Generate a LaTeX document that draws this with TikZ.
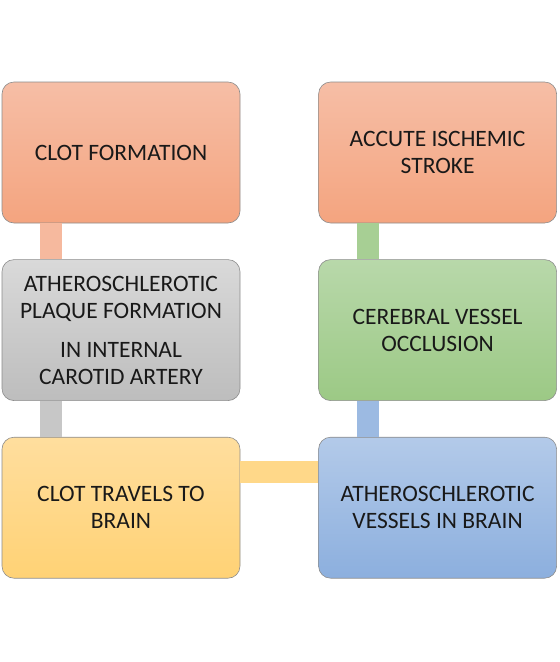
\documentclass[tikz,border=0pt]{standalone}
\usepackage{fontspec}
\setmainfont{Carlito}
\usepackage{xcolor}
\usetikzlibrary{positioning}

\definecolor{salmonTop}{HTML}{F6BEA6}
\definecolor{salmonBot}{HTML}{F4A47F}
\definecolor{greyTop}{HTML}{D9D9D9}
\definecolor{greyBot}{HTML}{BDBDBD}
\definecolor{yellowTop}{HTML}{FFDE9E}
\definecolor{yellowBot}{HTML}{FFD275}
\definecolor{blueTop}{HTML}{B3CAE9}
\definecolor{blueBot}{HTML}{8CAFDE}
\definecolor{greenTop}{HTML}{B8D8AA}
\definecolor{greenBot}{HTML}{9CC985}

\begin{document}
\begin{tikzpicture}[
    x=1pt, y=-1pt,
    node distance=36pt and 78pt,
    stage/.style={draw=black!45, line width=0.6pt, rounded corners=12pt,
      minimum width=238pt, minimum height=141pt, align=center,
      text=black!90, font=\fontsize{23.5}{27}\selectfont},
    bar/.style={line width=22pt}
  ]
    \useasboundingbox (0,0) rectangle (560,662);
    \node[stage, top color=salmonTop, bottom color=salmonBot] (clot) at (121,152.5) {CLOT FORMATION};
    \node[stage, top color=greyTop, bottom color=greyBot, below=of clot] (plaque)
      {ATHEROSCHLEROTIC\\PLAQUE FORMATION\\[12pt]IN INTERNAL\\CAROTID ARTERY};
    \node[stage, top color=yellowTop, bottom color=yellowBot, below=of plaque] (travel) {CLOT TRAVELS TO\\BRAIN};
    \node[stage, top color=blueTop, bottom color=blueBot, right=of travel] (vessels) {ATHEROSCHLEROTIC\\VESSELS IN BRAIN};
    \node[stage, top color=greenTop, bottom color=greenBot, above=of vessels] (occlusion) {CEREBRAL VESSEL\\OCCLUSION};
    \node[stage, top color=salmonTop, bottom color=salmonBot, above=of occlusion] (stroke) {ACCUTE ISCHEMIC\\STROKE};
    % joining bars
    \draw[bar, color=salmonTop!80!salmonBot] ([xshift=-70pt]clot.south) -- ([xshift=-70pt]plaque.north);
    \draw[bar, color=greyBot!85!white] ([xshift=-70pt]plaque.south) -- ([xshift=-70pt]travel.north);
    \draw[bar, color=yellowTop!50!yellowBot] ([yshift=36pt]travel.east) -- ([yshift=36pt]vessels.west);
    \draw[bar, color=blueTop!40!blueBot] ([xshift=-70pt]vessels.north) -- ([xshift=-70pt]occlusion.south);
    \draw[bar, color=greenTop!40!greenBot] ([xshift=-70pt]occlusion.north) -- ([xshift=-70pt]stroke.south);
\end{tikzpicture}
\end{document}
